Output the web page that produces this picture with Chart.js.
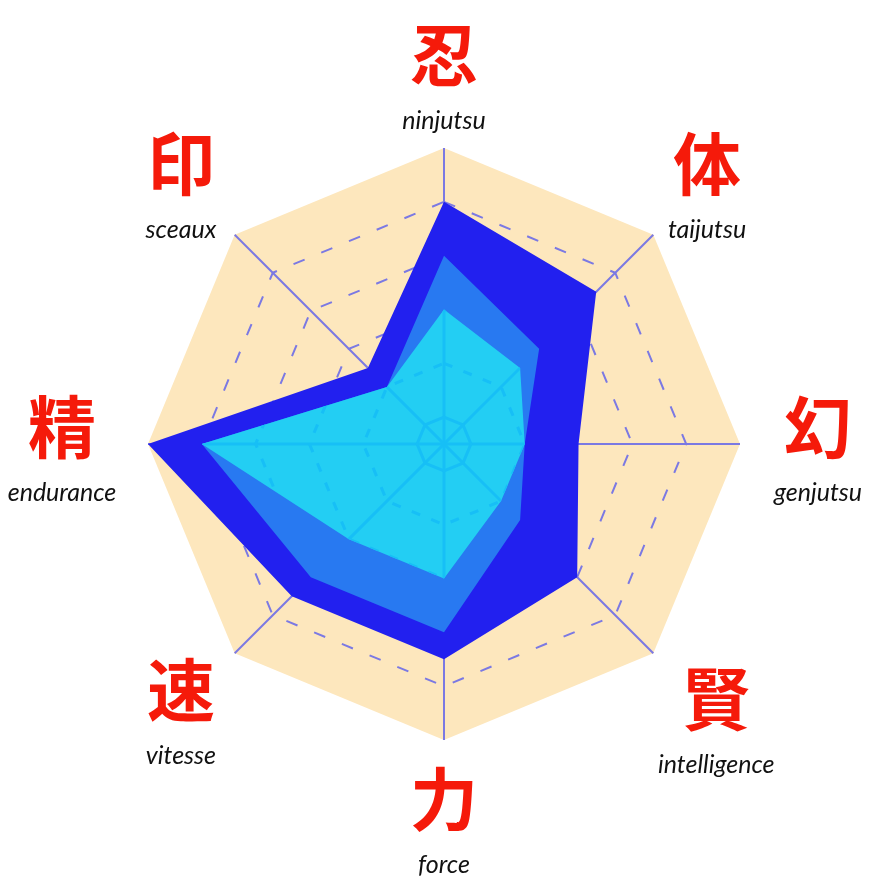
<!DOCTYPE html>
<html><head><meta charset="utf-8">
<script src="https://cdn.jsdelivr.net/npm/chart.js@4"></script>
<style>html,body{margin:0;padding:0;background:#fff}</style>
</head><body>
<div style="width:890px;height:890px"><canvas id="c" width="890" height="890"></canvas></div>
<script>
const categories = ['ninjutsu','taijutsu','genjutsu','intelligence','force','vitesse','endurance','sceaux'];
const kanji = ['忍','体','幻','賢','力','速','精','印'];
const outerValues = [4, 3.5, 2, 3, 3.5, 3.5, 5, 1.5];
const middleValues = [3, 2, 1, 1.5, 3, 3, 4, 1];
const innerValues = [2, 1.5, 1, 1, 2, 2, 4, 1];
const tickValues = [0, 1, 2, 3, 4, 5];
const scaleMin = -0.5, scaleMax = 5;

const innerGridPlugin = {
  id: 'innerGrid',
  afterDatasetsDraw(chart) {
    const s = chart.scales.r, ctx = chart.ctx;
    const pts = chart.getDatasetMeta(2).data;
    const n = categories.length;
    ctx.save();
    ctx.beginPath();
    pts.forEach((p, i) => i ? ctx.lineTo(p.x, p.y) : ctx.moveTo(p.x, p.y));
    ctx.closePath();
    ctx.clip();
    ctx.strokeStyle = '#17BFF6';
    ctx.lineWidth = 3;
    for (let i = 0; i < n; i++) {
      const a = s.getPointPositionForValue(i, scaleMin);
      const b = s.getPointPositionForValue(i, scaleMax);
      ctx.beginPath(); ctx.moveTo(a.x, a.y); ctx.lineTo(b.x, b.y); ctx.stroke();
    }
    tickValues.slice(0, 5).forEach(v => {
      ctx.setLineDash(v === 0 ? [] : [9, 12]);
      ctx.beginPath();
      for (let i = 0; i < n; i++) {
        const p = s.getPointPositionForValue(i, v);
        i ? ctx.lineTo(p.x, p.y) : ctx.moveTo(p.x, p.y);
      }
      ctx.closePath(); ctx.stroke();
    });
    ctx.restore();
  }
};

const labelPlugin = {
  id: 'labels',
  afterDraw(chart) {
    const s = chart.scales.r, ctx = chart.ctx;
    const dist = [372, 372, 374, 385, 372, 372, 382, 372];
    ctx.save();
    ctx.textAlign = 'center';
    ctx.textBaseline = 'middle';
    categories.forEach((c, i) => {
      const p = s.getPointPosition(i, dist[i]);
      const y = p.y + 16;
      ctx.fillStyle = '#F51A0A';
      ctx.font = 'bold 68px "Noto Sans CJK JP"';
      ctx.fillText(kanji[i], p.x, y - 33);
      ctx.fillStyle = '#111111';
      ctx.font = 'italic 25px Lato';
      ctx.fillText(c, p.x, y + 33);
    });
    ctx.restore();
  }
};

function make() {
  new Chart(document.getElementById('c'), {
    type: 'radar',
    data: {
      labels: categories,
      datasets: [
        { data: outerValues, backgroundColor: '#2220EF', borderWidth: 0, pointRadius: 0, fill: 'start', order: 2 },
        { data: middleValues, backgroundColor: '#2879F1', borderWidth: 0, pointRadius: 0, fill: 'start', order: 1 },
        { data: innerValues, backgroundColor: '#23CEF3', borderWidth: 0, pointRadius: 0, fill: 'start', order: 0 }
      ]
    },
    options: {
      responsive: false,
      animation: false,
      layout: { padding: { left: 148, right: 150, top: 148, bottom: 150 } },
      plugins: { legend: { display: false }, tooltip: { enabled: false } },
      elements: { line: { tension: 0 } },
      scales: {
        r: {
          min: scaleMin, max: scaleMax,
          backgroundColor: '#FDE7BD',
          afterBuildTicks: sc => { sc.ticks = tickValues.map(v => ({ value: v })); },
          ticks: { display: false },
          pointLabels: { display: false },
          grid: { color: c => (c.tick && c.tick.value === scaleMax) ? 'rgba(0,0,0,0)' : '#7B79E3', lineWidth: 2 },
          border: { dash: [12, 18] },
          angleLines: { color: '#7B79E3', lineWidth: 2 }
        }
      }
    },
    plugins: [innerGridPlugin, labelPlugin]
  });
}
Promise.all([
  document.fonts.load('italic 25px Lato'),
  document.fonts.load('bold 68px "Noto Sans CJK JP"', '忍体幻賢力速精印')
]).then(make, make);
</script>
</body></html>
